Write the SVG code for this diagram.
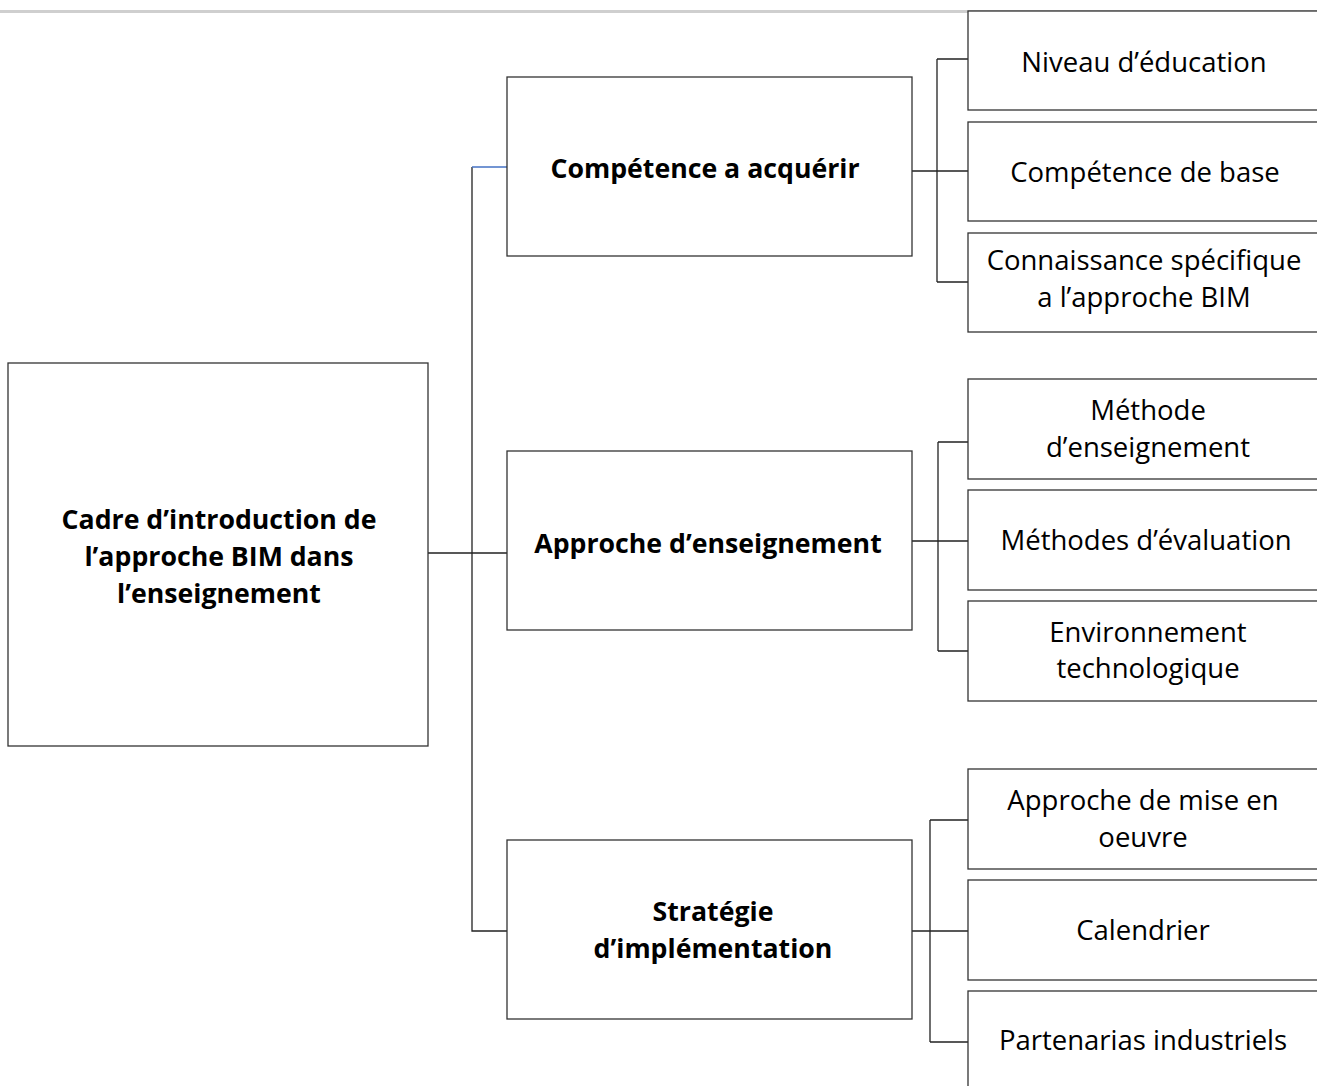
<svg xmlns="http://www.w3.org/2000/svg" width="1317" height="1086" viewBox="0 0 1317 1086">
<style>
.box{fill:#fff;stroke:#333;stroke-width:1.3}
.ln{fill:none;stroke:#222;stroke-width:1.3}
.t{font-family:"Open Sans","Liberation Sans",sans-serif;font-size:27.5px;fill:#000;text-anchor:middle}
.b{font-weight:bold;font-size:26.7px}
</style>
<rect x="0" y="0" width="1317" height="1086" fill="#fff"/>
<line x1="0" y1="11.5" x2="1317" y2="11.5" stroke="#cfcfcf" stroke-width="3"/>
<g id="connectors">
<path class="ln" d="M428 553H507M472 167V931H507"/>
<path d="M472 167H507" stroke="#4472C4" stroke-width="1.5" fill="none"/>
<path class="ln" d="M912 171H968M937 59V282M937 59H968M937 282H968"/>
<path class="ln" d="M912 541H968M938 442V651M938 442H968M938 651H968"/>
<path class="ln" d="M912 931H968M930 820V1042M930 820H968M930 1042H968"/>
</g>
<g id="n-main"><rect class="box" x="8" y="363" width="420" height="383"/>
<text class="t b" x="219" y="529">Cadre d’introduction de</text>
<text class="t b" x="219" y="566">l’approche BIM dans</text>
<text class="t b" x="219" y="603">l’enseignement</text></g>
<g id="n-competence"><rect class="box" x="507" y="77" width="405" height="179"/>
<text class="t b" x="705" y="178">Compétence a acquérir</text></g>
<g id="n-approche"><rect class="box" x="507" y="451" width="405" height="179"/>
<text class="t b" x="708" y="553">Approche d’enseignement</text></g>
<g id="n-strategie"><rect class="box" x="507" y="840" width="405" height="179"/>
<text class="t b" x="713" y="921">Stratégie</text>
<text class="t b" x="713" y="958">d’implémentation</text></g>
<g id="n-niveau"><rect class="box" x="968" y="11" width="360" height="99"/>
<text class="t" x="1144" y="72">Niveau d’éducation</text></g>
<g id="n-base"><rect class="box" x="968" y="122" width="360" height="99"/>
<text class="t" x="1145" y="182">Compétence de base</text></g>
<g id="n-connaissance"><rect class="box" x="968" y="233" width="360" height="99"/>
<text class="t" x="1144" y="270">Connaissance spécifique</text>
<text class="t" x="1144" y="307">a l’approche BIM</text></g>
<g id="n-methode"><rect class="box" x="968" y="379" width="360" height="100"/>
<text class="t" x="1148" y="420">Méthode</text>
<text class="t" x="1148" y="457">d’enseignement</text></g>
<g id="n-evaluation"><rect class="box" x="968" y="490" width="360" height="100"/>
<text class="t" x="1146" y="550">Méthodes d’évaluation</text></g>
<g id="n-environnement"><rect class="box" x="968" y="601" width="360" height="100"/>
<text class="t" x="1148" y="642">Environnement</text>
<text class="t" x="1148" y="678">technologique</text></g>
<g id="n-mise"><rect class="box" x="968" y="769" width="360" height="100"/>
<text class="t" x="1143" y="810">Approche de mise en</text>
<text class="t" x="1143" y="847">oeuvre</text></g>
<g id="n-calendrier"><rect class="box" x="968" y="880" width="360" height="100"/>
<text class="t" x="1143" y="940">Calendrier</text></g>
<g id="n-partenarias"><rect class="box" x="968" y="991" width="360" height="120"/>
<text class="t" x="1143" y="1050">Partenarias industriels</text></g>
</svg>
